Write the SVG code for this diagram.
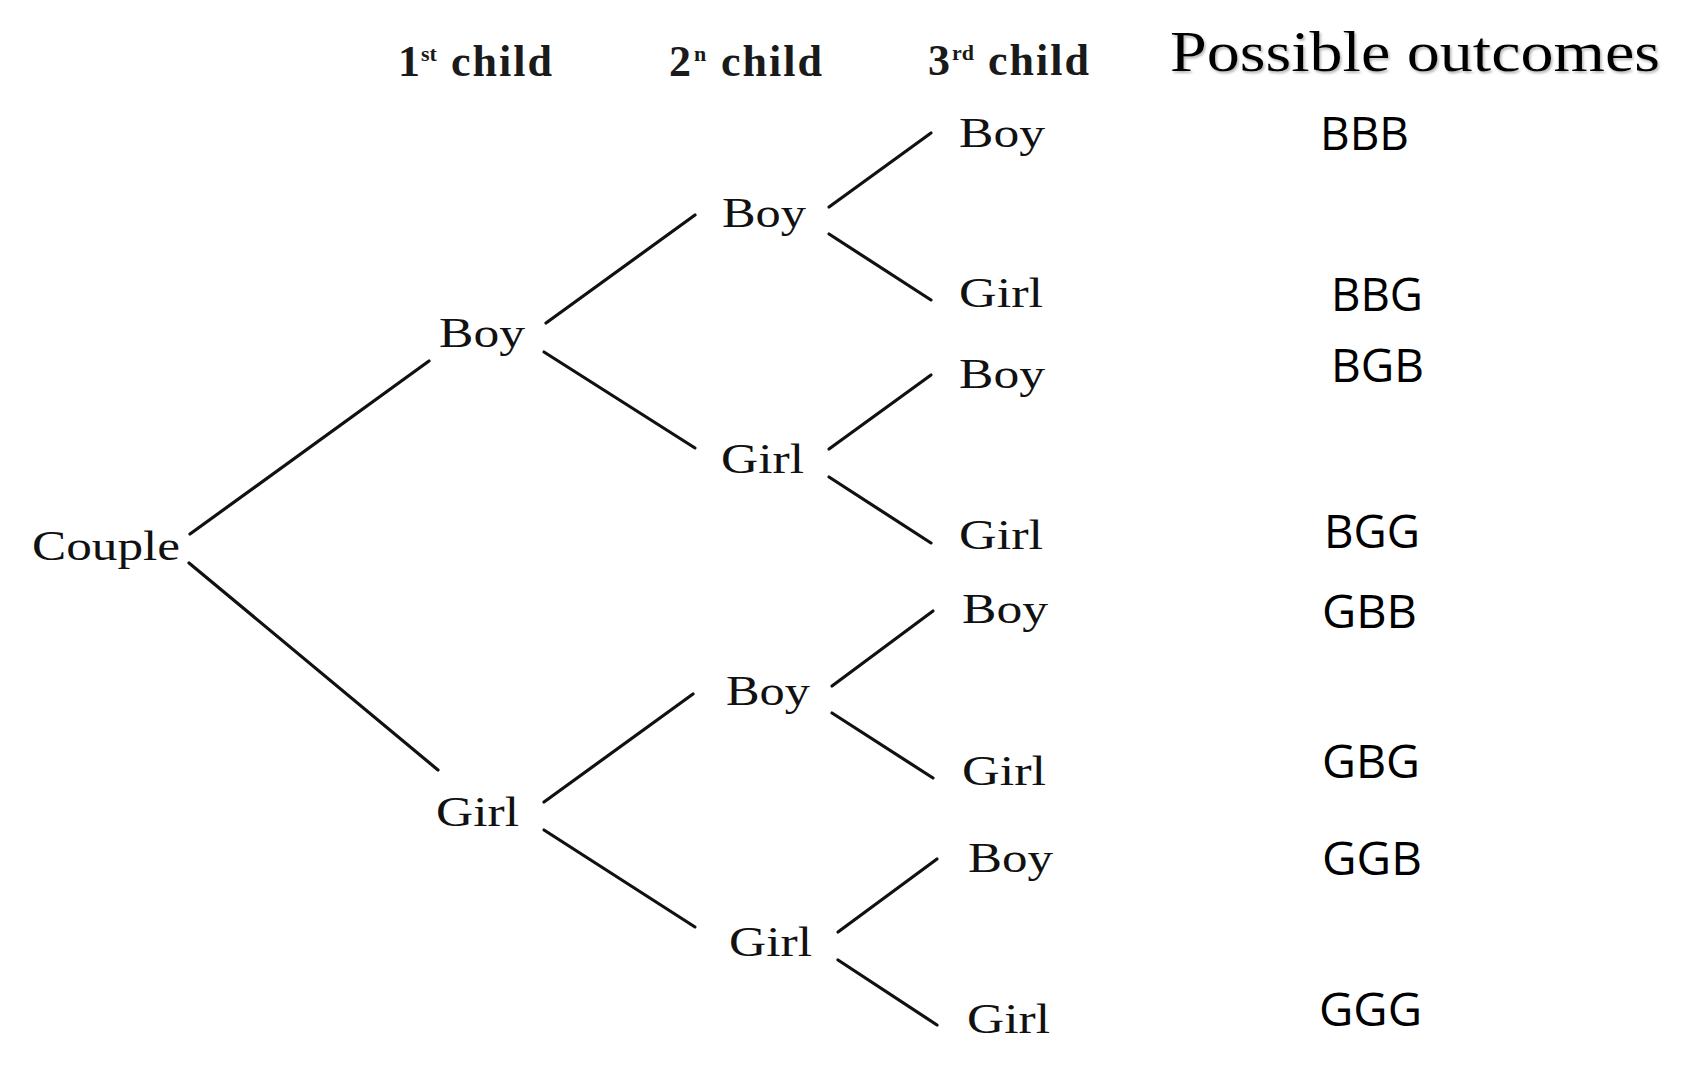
<svg xmlns="http://www.w3.org/2000/svg" width="1694" height="1073" viewBox="0 0 1694 1073">
<defs>
<style>
.node{font-family:"Liberation Serif","Times New Roman",serif;font-size:43px;fill:#111}
.head{font-family:"Liberation Serif","Times New Roman",serif;font-size:44px;font-weight:bold;fill:#1a1a1a}
.word{letter-spacing:2px}
.sup{font-size:22px}
.title{font-family:"Liberation Serif","Times New Roman",serif;font-size:57px;fill:#000}
.out{font-family:"Open Sans","Liberation Sans",sans-serif;font-size:45px;fill:#000}
.edge line{stroke:#111;stroke-width:3.2;stroke-linecap:round}
</style>
<filter id="shadow" x="-5%" y="-20%" width="110%" height="150%">
<feDropShadow dx="1.5" dy="2" stdDeviation="1.2" flood-color="#888" flood-opacity="0.6"/>
</filter>
</defs>
<rect width="1694" height="1073" fill="#fff"/>

<g id="headers">
<text class="head" x="398" y="76">1<tspan class="sup" x="421" y="61">st</tspan><tspan class="word" x="451" y="76">child</tspan></text>
<text class="head" x="669" y="76">2<tspan class="sup" x="694" y="61">n</tspan><tspan class="word" x="721" y="76">child</tspan></text>
<text class="head" x="928" y="75">3<tspan class="sup" x="952" y="60">rd</tspan><tspan class="word" x="988" y="75">child</tspan></text>
<text class="title" x="1170" y="71" textLength="490" lengthAdjust="spacingAndGlyphs" filter="url(#shadow)">Possible outcomes</text>
</g>

<g id="connectors" class="edge">
<line x1="190" y1="534" x2="429" y2="361"/>
<line x1="189" y1="563" x2="438" y2="770"/>
<line x1="546" y1="323" x2="695" y2="215"/>
<line x1="544" y1="352" x2="695" y2="448"/>
<line x1="829" y1="207" x2="931" y2="133"/>
<line x1="829" y1="234" x2="931" y2="300"/>
<line x1="829" y1="449" x2="931" y2="375"/>
<line x1="829" y1="477" x2="931" y2="543"/>
<line x1="544" y1="802" x2="693" y2="694"/>
<line x1="544" y1="830" x2="695" y2="927"/>
<line x1="832" y1="686" x2="933" y2="611"/>
<line x1="832" y1="713" x2="933" y2="778"/>
<line x1="838" y1="932" x2="937" y2="859"/>
<line x1="838" y1="960" x2="937" y2="1025"/>
</g>

<g id="node-couple"><text class="node" x="32" y="560" textLength="148" lengthAdjust="spacingAndGlyphs">Couple</text></g>
<g id="node-b"><text class="node" x="439" y="347" textLength="86" lengthAdjust="spacingAndGlyphs">Boy</text></g>
<g id="node-g"><text class="node" x="436" y="826" textLength="83" lengthAdjust="spacingAndGlyphs">Girl</text></g>
<g id="node-bb"><text class="node" x="722" y="227" textLength="84" lengthAdjust="spacingAndGlyphs">Boy</text></g>
<g id="node-bg"><text class="node" x="721" y="473" textLength="83" lengthAdjust="spacingAndGlyphs">Girl</text></g>
<g id="node-gb"><text class="node" x="726" y="705" textLength="84" lengthAdjust="spacingAndGlyphs">Boy</text></g>
<g id="node-gg"><text class="node" x="729" y="956" textLength="83" lengthAdjust="spacingAndGlyphs">Girl</text></g>
<g id="node-bbb"><text class="node" x="959" y="147" textLength="86" lengthAdjust="spacingAndGlyphs">Boy</text></g>
<g id="node-bbg"><text class="node" x="959" y="307" textLength="84" lengthAdjust="spacingAndGlyphs">Girl</text></g>
<g id="node-bgb"><text class="node" x="959" y="388" textLength="86" lengthAdjust="spacingAndGlyphs">Boy</text></g>
<g id="node-bgg"><text class="node" x="959" y="549" textLength="84" lengthAdjust="spacingAndGlyphs">Girl</text></g>
<g id="node-gbb"><text class="node" x="962" y="623" textLength="86" lengthAdjust="spacingAndGlyphs">Boy</text></g>
<g id="node-gbg"><text class="node" x="962" y="785" textLength="84" lengthAdjust="spacingAndGlyphs">Girl</text></g>
<g id="node-ggb"><text class="node" x="968" y="872" textLength="85" lengthAdjust="spacingAndGlyphs">Boy</text></g>
<g id="node-ggg"><text class="node" x="967" y="1033" textLength="83" lengthAdjust="spacingAndGlyphs">Girl</text></g>

<g id="outcomes">
<text class="out" x="1320" y="150" textLength="89" lengthAdjust="spacingAndGlyphs">BBB</text>
<text class="out" x="1331" y="311" textLength="92" lengthAdjust="spacingAndGlyphs">BBG</text>
<text class="out" x="1331" y="382" textLength="93" lengthAdjust="spacingAndGlyphs">BGB</text>
<text class="out" x="1324" y="548" textLength="96" lengthAdjust="spacingAndGlyphs">BGG</text>
<text class="out" x="1322" y="628" textLength="95" lengthAdjust="spacingAndGlyphs">GBB</text>
<text class="out" x="1322" y="778" textLength="98" lengthAdjust="spacingAndGlyphs">GBG</text>
<text class="out" x="1322" y="875" textLength="100" lengthAdjust="spacingAndGlyphs">GGB</text>
<text class="out" x="1319" y="1026" textLength="103" lengthAdjust="spacingAndGlyphs">GGG</text>
</g>
</svg>
